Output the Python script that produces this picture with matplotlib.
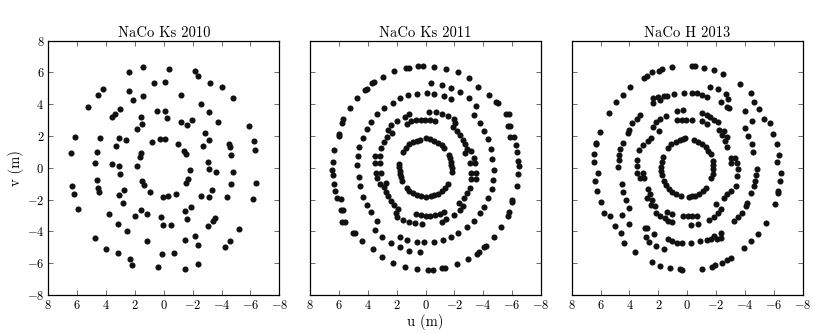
import numpy as np
import matplotlib
matplotlib.use("Agg")
import matplotlib.pyplot as plt

plt.rcParams['font.family'] = 'serif'
plt.rcParams['font.serif'] = ['cmr10', 'DejaVu Serif']
plt.rcParams['mathtext.fontset'] = 'cm'
plt.rcParams['axes.formatter.use_mathtext'] = True
plt.rcParams['axes.unicode_minus'] = True

titles = ["NaCo Ks 2010", "NaCo Ks 2011", "NaCo H 2013"]
ticks = [8, 6, 4, 2, 0, -2, -4, -6, -8]

# One point of each conjugate pair (u, v); the (-u, -v) partner is drawn too.
u_2010 = [1.47, 2.39, -0.38, -2.18, -2.37, 0.70, -0.10, -3.20, -4.00, 4.21, 4.58, 2.39, 1.47,
          2.15, -1.19, -4.77, 5.23, -2.57, 3.04, 3.38, 3.57, 0.50, -0.06, -0.20, -3.15, 1.60,
          1.49, -1.17, -1.61, -1.97, -3.78, 1.88, -5.92, 6.18, 4.40, 3.11, -2.83, 2.60, -3.13,
          -6.25, 0.82, 0.27, -0.06, 3.34, -0.96, -2.74, -4.49, -4.56, -6.34, 6.41, 4.65, 1.56,
          1.67, -1.40, -1.51, -4.66, -3.06, 4.79, 3.59, 1.84, 3.11]
v_2010 = [6.34, 6.05, 6.22, 6.11, 5.76, 5.34, 5.40, 5.34, 5.08, 4.98, 4.60, 4.85, 4.54,
          4.27, 4.60, 4.41, 3.85, 4.00, 3.68, 3.36, 3.17, 3.57, 3.60, 3.11, 3.51, 3.22,
          2.74, 2.88, 2.67, 3.01, 2.88, 2.46, 2.61, 1.96, 1.86, 1.86, 2.19, 1.75, 1.73,
          1.67, 1.62, 1.79, 1.81, 1.37, 1.50, 1.37, 1.50, 1.29, 1.14, 0.95, 1.02, 0.93,
          0.70, 1.08, 0.85, 0.79, 0.39, 0.28, 0.24, 0.14, 0.09]

u_2011 = [6.43, 6.34, 6.01, 5.97, 5.80, 5.69, 5.23, 4.72, 4.21, 4.07, 3.70, 3.56, 2.96, 2.17,
          1.34, 1.16, 0.49, 0.18, -0.62, -1.41, -2.27, -3.01, -3.63, -4.42, -4.86, -4.99,
          -5.55, -5.78, -5.71, -5.85, -5.87, -6.15, -6.27, -6.34, -6.38, -6.47,
          -0.37, -1.16, -1.80, -2.40, -3.03, -3.49,
          -0.07, 0.58, 1.18, 1.76, 2.24, 2.84, 3.33, 3.77, 4.02, 4.35, 4.58, 4.69, 4.74,
          -0.60, -1.25, -1.80, -3.33, -3.79, -4.07, -4.32, -4.53, -4.60,
          1.11, 1.45, 1.98, 2.38, 2.63, 2.33, 2.70, 2.89, 3.07, 3.14, 3.49, 3.14, 3.49,
          1.29, 0.99, 0.67, 0.34, 0.02, -0.33, -0.63,
          -0.21, -0.72, -1.13, -1.55, -1.94, -2.06, -1.88, -2.20, -2.38, -2.57, -2.75, -2.87,
          -2.75, -3.17, -3.33, -3.45, -3.10,
          1.57, 1.38, 1.15, 0.88, 0.60, 0.41,
          0.00, -0.32, -0.62, -0.90, -1.13, -1.25,
          -1.60, -1.67, -1.74, -1.78, -1.81, -1.81]
v_2011 = [0.37, 1.14, 2.00, 2.15, 2.80, 3.05, 3.74, 4.37, 4.90, 4.98, 5.31, 5.42, 5.73, 6.07,
          6.30, 6.30, 6.43, 6.43, 6.36, 6.23, 6.00, 5.63, 5.08, 4.58, 4.12, 4.08,
          3.39, 3.39, 2.63, 2.63, 1.94, 1.92, 1.46, 1.02, 0.45, 0.14,
          5.31, 5.21, 5.00, 4.75, 4.37, 3.91,
          4.69, 4.64, 4.56, 4.37, 4.10, 3.74, 3.36, 2.86, 2.44, 1.90, 1.33, 0.74, 0.16,
          4.66, 4.54, 4.35, 3.32, 2.80, 2.32, 1.81, 1.16, 0.58,
          3.38, 3.23, 2.96, 2.67, 2.37, 2.22, 1.91, 1.61, 1.24, 0.72, 0.72, 0.30, 0.30,
          2.77, 2.92, 2.98, 3.02, 3.00, 2.98, 2.92,
          3.54, 3.50, 3.38, 3.29, 3.08, 2.81, 2.56, 2.33, 2.08, 1.76, 1.49, 1.20,
          0.93, 1.03, 0.65, 0.30, 0.30,
          1.01, 1.26, 1.47, 1.64, 1.72, 1.76,
          1.85, 1.80, 1.72, 1.59, 1.43, 1.26,
          0.80, 0.59, 0.38, 0.17, -0.04, -0.25]

u_2013 = [1.02, 1.73, 1.94, 2.43, 2.77, 3.01, 3.93, 4.44, 4.90, 5.43, 6.06, 6.29, 6.29, 6.43, 6.47,
          -0.35, -0.53, -1.16, -1.85, -2.47, -3.65, -4.39, -4.60, -4.97, -5.34, -5.76, -5.94,
          -6.22, -6.36, -6.20,
          2.36, 2.03, 1.62, 1.39, 0.88, 0.23, -0.35, -0.69, -1.04, -1.34,
          -1.60, -2.15, -2.66, -2.84, -2.31, -2.77,
          -2.89, -4.00, -4.51, -4.00, -4.23, -4.46, -4.55,
          3.24, 3.51, 3.82, 4.05, 2.36, 1.85, 4.12, 4.44, 4.62, 4.69, 4.74, 4.81,
          1.50, 1.85, 2.13, 2.36, 1.97, 2.54, 2.73, 3.05, 3.35, 3.47, 3.51, 0.74, 0.28,
          0.69, 0.35, 0.05, -0.30,
          -1.04, -1.34, -1.57, -1.85, -2.13, -1.04, -1.39, -2.20, -2.54, -2.43, -2.77, -2.59,
          -2.73, -3.01, -3.28, -3.05, -3.47,
          1.32, 1.09, 0.81, 0.53, 0.30, 0.12,
          -0.46, -0.76, -1.04, -1.27, -1.46, -1.62,
          -1.76, -1.80, -1.80, -1.76, -1.66]
v_2013 = [6.35, 6.21, 6.12, 6.00, 5.77, 5.68, 5.07, 4.61, 4.15, 3.48, 2.26, 1.59, 1.47, 0.84, 0.34,
          6.42, 6.39, 6.29, 6.16, 5.93, 5.30, 4.72, 4.12, 3.69, 3.06, 2.83, 2.16,
          1.47, 0.80, 0.34,
          4.41, 4.45, 4.50, 4.54, 4.62, 4.74, 4.74, 4.72, 4.61, 4.47,
          5.09, 4.93, 4.65, 4.36, 4.14, 3.80,
          3.77, 3.56, 2.94, 2.52, 2.01, 1.51, 1.01,
          3.34, 3.09, 2.81, 2.39, 4.10, 4.29, 2.22, 1.59, 1.17, 0.80, 0.48, 0.06,
          3.29, 3.08, 2.87, 2.60, 2.29, 1.87, 1.66, 1.45, 1.13, 0.51, 0.09, 3.55, 3.61,
          3.00, 3.00, 3.00, 3.00,
          3.42, 3.34, 3.17, 3.04, 2.87, 2.92, 2.75, 2.39, 2.33, 2.04, 1.91, 1.66,
          1.34, 0.65, 0.65, 0.30, 0.30,
          1.26, 1.47, 1.64, 1.74, 1.80, 1.85,
          1.74, 1.64, 1.49, 1.32, 1.09, 0.84,
          0.42, 0.17, -0.08, -0.36, -0.67]

datasets = [(u_2010, v_2010), (u_2011, v_2011), (u_2013, v_2013)]

W, H = 830, 334
fig = plt.figure(figsize=(W / 100, H / 100), dpi=100)
lefts = [48.3, 310.0, 571.7]
aw, ax_top, ax_bot = 231.0, 40.7, 295.0

for i, (title, (u, v)) in enumerate(zip(titles, datasets)):
    ax = fig.add_axes([lefts[i] / W, (H - ax_bot) / H, aw / W, (ax_bot - ax_top) / H])
    u = np.asarray(u); v = np.asarray(v)
    ax.plot(np.concatenate([u, -u]), np.concatenate([v, -v]), 'o', color='#111111',
            ms=4.4, mew=0)
    ax.set_xlim(8, -8)
    ax.set_ylim(-8, 8)
    ax.set_xticks(ticks)
    ax.set_yticks(ticks)
    ax.tick_params(direction='in', top=True, right=True, length=3.5, width=0.6,
                   labelsize=9, pad=3, color='#555555')
    if i > 0:
        ax.set_yticklabels([])
    for s in ax.spines.values():
        s.set_linewidth(0.9)
    ax.set_title(title, fontsize=10.5, pad=3)
    if i == 0:
        ax.set_ylabel("v (m)", fontsize=10.5, labelpad=2)
    if i == 1:
        ax.set_xlabel("u (m)", fontsize=10.5, labelpad=1)

fig.savefig("out.png", dpi=100)
